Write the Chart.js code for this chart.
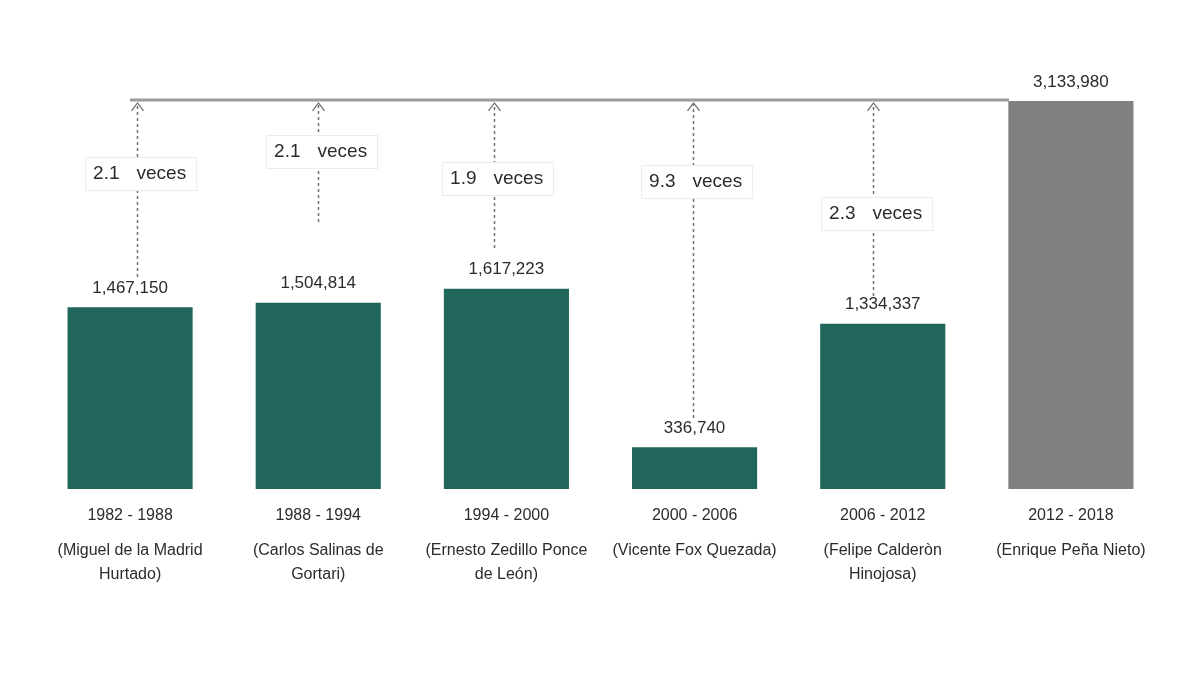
<!DOCTYPE html>
<html>
<head>
<meta charset="utf-8">
<script src="https://cdn.jsdelivr.net/npm/chart.js@4"></script>
<style>
  html, body { margin: 0; padding: 0; background: #ffffff; }
  #wrap { width: 1200px; height: 695px; }
</style>
</head>
<body>
<div id="wrap"><canvas id="c" width="1200" height="695"></canvas></div>
<script>
// ---- data ----
const periods = ["1982 - 1988", "1988 - 1994", "1994 - 2000", "2000 - 2006", "2006 - 2012", "2012 - 2018"];
const presidents = [
  ["(Miguel de la Madrid", "Hurtado)"],
  ["(Carlos Salinas de", "Gortari)"],
  ["(Ernesto Zedillo Ponce", "de León)"],
  ["(Vicente Fox Quezada)"],
  ["(Felipe Calderòn", "Hinojosa)"],
  ["(Enrique Peña Nieto)"]
];
const values = [1467150, 1504814, 1617223, 336740, 1334337, 3133980];
const ratios = ["2.1", "2.1", "1.9", "9.3", "2.3"];
const ratioWord = "veces";

// ---- styles ----
const barColors = ["#21665b", "#21665b", "#21665b", "#21665b", "#21665b", "#808080"];
const textColor = "#2b2b2b";
const font = "'Liberation Sans', Arial, sans-serif";
// annotation layout (pixel styling, not data)
const arrowDx = [7, 0, -12, -2, -10];
const arrowBottom = [277, 222, 248, 418, 296];
const boxCenterY = [174, 152, 179, 182, 214];

const fmt = v => v.toLocaleString('en-US');

const annotPlugin = {
  id: 'annot',
  afterDatasetsDraw(chart) {
    const ctx = chart.ctx;
    const xs = chart.scales.x, ys = chart.scales.y;
    const base = ys.getPixelForValue(0);
    const n = values.length;
    const lineY = ys.getPixelForValue(values[n - 1]) - 1;
    ctx.save();

    // horizontal reference line
    ctx.strokeStyle = "#9a9a9a";
    ctx.lineWidth = 3;
    ctx.beginPath();
    ctx.moveTo(xs.getPixelForValue(0), lineY);
    ctx.lineTo(xs.getPixelForValue(n - 1) - 62, lineY);
    ctx.stroke();

    // dashed arrows + boxes
    for (let i = 0; i < ratios.length; i++) {
      const x = Math.round(xs.getPixelForValue(i) + arrowDx[i]) + 0.5;
      const top = lineY + 2;
      ctx.strokeStyle = "#707070";
      ctx.lineWidth = 1.5;
      ctx.setLineDash([3, 3]);
      ctx.beginPath();
      ctx.moveTo(x, arrowBottom[i]);
      ctx.lineTo(x, top + 2);
      ctx.stroke();
      ctx.setLineDash([]);
      ctx.lineWidth = 1.3;
      ctx.beginPath();
      ctx.moveTo(x - 6, top + 9);
      ctx.lineTo(x, top + 1);
      ctx.lineTo(x + 6, top + 9);
      ctx.stroke();

      // box
      ctx.font = "19px " + font;
      const wNum = ctx.measureText(ratios[i]).width;
      const wWord = ctx.measureText(ratioWord).width;
      const numRight = x - 18;
      const wordLeft = x - 1;
      const bx0 = numRight - wNum - 8;
      const bx1 = wordLeft + wWord + 11;
      const cy = boxCenterY[i];
      ctx.fillStyle = "#ffffff";
      ctx.fillRect(bx0, cy - 17, bx1 - bx0, 34);
      ctx.strokeStyle = "#ececec";
      ctx.lineWidth = 1;
      ctx.strokeRect(bx0 + 0.5, cy - 16.5, bx1 - bx0 - 1, 33);
      ctx.fillStyle = textColor;
      ctx.textBaseline = "middle";
      ctx.textAlign = "right";
      ctx.fillText(ratios[i], numRight, cy);
      ctx.textAlign = "left";
      ctx.fillText(ratioWord, wordLeft, cy);
    }

    // value labels
    ctx.font = "17px " + font;
    ctx.fillStyle = textColor;
    ctx.textAlign = "center";
    ctx.textBaseline = "middle";
    for (let i = 0; i < n; i++) {
      const x = xs.getPixelForValue(i);
      const y = ys.getPixelForValue(values[i]);
      ctx.fillText(fmt(values[i]), x, y - 19);
    }

    // category labels
    for (let i = 0; i < n; i++) {
      const x = xs.getPixelForValue(i);
      ctx.font = "16px " + font;
      ctx.fillText(periods[i], x, base + 27);
      presidents[i].forEach((ln, k) => {
        ctx.fillText(ln, x, base + 62 + k * 24);
      });
    }
    ctx.restore();
  }
};

new Chart(document.getElementById('c'), {
  type: 'bar',
  data: {
    labels: periods,
    datasets: [{
      data: values,
      backgroundColor: barColors,
      borderWidth: 0,
      barPercentage: 0.665,
      categoryPercentage: 1.0
    }]
  },
  options: {
    responsive: false,
    animation: false,
    devicePixelRatio: 1,
    layout: { padding: { left: 36, right: 35, top: 60, bottom: 206 } },
    plugins: { legend: { display: false }, tooltip: { enabled: false } },
    scales: {
      x: { display: false },
      y: { display: false, min: 0, max: 3465000 }
    }
  },
  plugins: [annotPlugin]
});
</script>
</body>
</html>
